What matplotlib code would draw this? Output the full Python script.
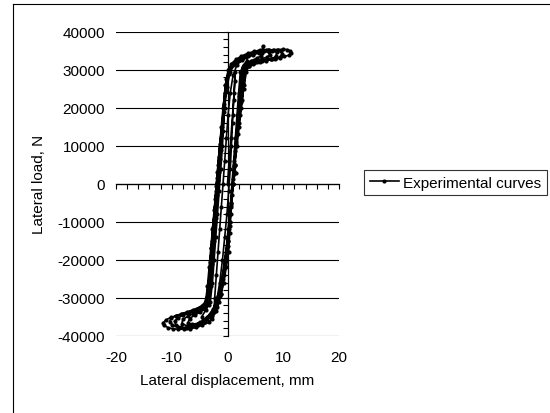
import matplotlib
matplotlib.use("Agg")
import matplotlib.pyplot as plt
from matplotlib.lines import Line2D
from matplotlib.ticker import MultipleLocator

plt.rcParams.update({"font.family": ["Liberation Sans", "DejaVu Sans"], "font.size": 11,
                     "axes.unicode_minus": False})

# cyclic test record, one list pair per loading cycle (mm, N)
cyc1_disp = [0.0, 0.3, 0.6, 0.9, 1.2, 1.4, 1.3, 1.1, 0.9, 0.7, 0.5, 0.2, -0.1, -0.5, -0.9, -1.4, -1.9, -2.4, -2.3, -2.0,
             -1.7, -1.4, -1.1, -0.8, -0.5]
cyc1_load = [0, 6000, 12000, 18000, 24000, 29500, 27000, 22000, 16000, 10000, 4000, -2000, -8000, -14000, -20000,
             -26000, -30500, -33000, -30000, -24000, -18000, -12000, -6000, 0, 6000]

cyc2_disp = [-0.2, 0.1, 0.5, 1.0, 1.7, 2.6, 3.6, 3.5, 2.9, 2.3, 2.0, 1.7, 1.4, 1.1, 0.8, 0.5, 0.1, -0.3, -0.8, -1.4,
             -2.2, -3.3, -4.4, -4.6, -3.9, -3.1, -2.7, -2.4, -2.1, -1.8, -1.5, -1.2, -0.9]
cyc2_load = [12000, 18000, 24000, 28500, 31300, 32600, 33500, 32400, 31200, 29500, 24000, 18000, 12000, 6000, 0,
             -6000, -12000, -18000, -24000, -29000, -32500, -34800, -35900, -35000, -33200, -31200, -26000, -20000,
             -14000, -8000, -2000, 4000, 10000]

cyc3_disp = [-0.6, -0.3, 0.2, 0.9, 1.8, 2.8, 3.8, 4.8, 5.6, 6.1, 6.0, 5.2, 4.3, 3.4, 2.7, 2.4, 2.1, 1.8, 1.5, 1.2,
             0.9, 0.6, 0.3, -0.1, -0.6, -1.2, -1.9, -2.8, -4.0, -5.2, -6.3, -7.1, -6.8, -5.9, -4.9, -4.0, -3.3, -3.0,
             -2.7, -2.4, -2.1, -1.8, -1.5, -1.2]
cyc3_load = [19000, 24500, 28800, 31200, 32300, 33200, 33900, 34400, 34700, 34400, 33600, 33000, 32400, 31700, 30800,
             28000, 23000, 17000, 11000, 5000, 0, -6000, -12000, -18000, -24000, -29000, -32500, -34800, -36000,
             -36700, -37000, -36600, -35500, -34600, -33800, -33000, -31800, -27000, -21000, -15000, -9000, -3000,
             3000, 9000]

cyc4_disp = [-0.8, -0.5, -0.1, 0.5, 1.3, 2.3, 3.4, 4.5, 5.6, 6.6, 7.4, 7.6, 7.1, 6.2, 5.2, 4.2, 3.3, 2.8, 2.5, 2.2,
             1.9, 1.6, 1.3, 1.0, 0.7, 0.4, 0.0, -0.5, -1.0, -1.7, -2.6, -3.7, -4.9, -6.1, -7.3, -8.2, -8.0, -7.1,
             -6.1, -5.1, -4.2, -3.6, -3.2, -2.9, -2.6, -2.3, -2.0, -1.7, -1.3]
cyc4_load = [14000, 20000, 25500, 29500, 31400, 32500, 33400, 34000, 34500, 34800, 34700, 34000, 33300, 32900, 32500,
             32000, 31200, 29500, 25000, 20000, 15000, 10000, 5000, 0, -5000, -10000, -15000, -20000, -25000, -29500,
             -33000, -35200, -36500, -37200, -37400, -36800, -35700, -34900, -34200, -33500, -32700, -31300, -26500,
             -21000, -15500, -10000, -4500, 1000, 6500]

cyc5_disp = [-0.9, -0.6, -0.3, 0.3, 1.0, 2.0, 3.1, 4.2, 5.3, 6.2, 6.3, 6.4, 7.4, 8.3, 8.8, 8.7, 7.9, 6.9, 5.9, 4.9,
             3.9, 3.0, 2.7, 2.4, 2.0, 1.6, 1.3, 1.0, 0.7, 0.4, 0.0, -0.5, -1.1, -1.7, -2.5, -3.6, -4.8, -6.0, -7.2,
             -8.4, -9.3, -9.5, -8.9, -7.9, -6.9, -5.9, -4.9, -4.0, -3.5, -3.2, -2.9, -2.6, -2.3, -2.0, -1.7, -1.4]
cyc5_load = [14000, 20000, 25500, 29500, 31500, 32600, 33500, 34200, 34700, 35000, 36200, 35100, 35300, 35100, 34600,
             33500, 32900, 32600, 32300, 31900, 31300, 30300, 26500, 21500, 16000, 10500, 5000, 0, -5500, -11000,
             -16500, -22000, -27000, -30800, -33700, -35600, -36800, -37500, -37900, -37800, -37200, -36200, -35300,
             -34600, -34000, -33400, -32800, -32000, -28000, -22500, -17000, -11500, -6000, -500, 5000, 10500]

cyc6_disp = [-1.0, -0.7, -0.4, 0.1, 0.7, 1.5, 2.5, 3.6, 4.7, 5.8, 6.9, 7.9, 8.9, 9.6, 9.8, 9.5, 8.7, 7.8, 6.8, 5.8,
             4.8, 3.9, 3.2, 2.9, 2.5, 2.1, 1.7, 1.3, 1.0, 0.7, 0.4, 0.1, -0.3, -0.8, -1.4, -2.1, -3.0, -4.1, -5.3,
             -6.5, -7.7, -8.9, -9.9, -10.4, -10.1, -9.2, -8.2, -7.2, -6.2, -5.2, -4.4, -3.8, -3.4, -3.1, -2.8, -2.5,
             -2.2, -1.9, -1.6]
cyc6_load = [15000, 21000, 26000, 29800, 31600, 32700, 33600, 34300, 34800, 35100, 35200, 35000, 35100, 34900, 34200,
             33400, 33000, 32700, 32500, 32100, 31700, 31000, 29800, 25000, 20000, 15000, 10000, 5000, 0, -5000,
             -10000, -15000, -20000, -25000, -29500, -32800, -35000, -36400, -37300, -37800, -38000, -37800, -37200,
             -36300, -35300, -34700, -34200, -33700, -33200, -32600, -31900, -30500, -26000, -20500, -15000, -9500,
             -4000, 1500, 7000]

cyc7_disp = [-1.1, -0.8, -0.5, -0.2, 0.3, 0.9, 1.6, 2.5, 3.5, 4.5, 5.5, 6.4, 7.3, 8.2, 9.1, 10.0, 10.7, 11.2, 11.3,
             11.0, 10.2, 9.4, 8.6, 7.8, 6.9, 6.1, 5.3, 4.5, 3.8, 3.4, 3.0, 2.6, 2.2, 1.8, 1.4, 1.1, 1.6, 1.0, 0.8, 0.6,
             0.4, 0.2, -0.2, -0.7, -1.1, -1.5, -2.0, -2.8, -3.4, -4.5, -5.7, -6.7, -7.8, -8.8, -9.7, -10.6, -11.4,
             -11.6, -11.0, -10.2, -9.2, -8.3, -7.3, -6.3, -5.4, -4.6, -4.0, -3.6, -3.3, -3.0, -2.7, -2.4, -2.1, -1.8]
cyc7_load = [15000, 20000, 24000, 27500, 30200, 31600, 32400, 33200, 33900, 34400, 34800, 35200, 35300, 35200, 35300,
             35400, 35300, 35000, 34300, 33800, 33500, 33100, 32800, 32700, 32400, 32200, 31900, 31500, 30900, 29500,
             26000, 22000, 18000, 13000, 8500, 4500, 2800, 1200, -3000, -8000, -13000, -18000, -22000, -26000, -29000,
             -31000, -33500, -35500, -36500, -37200, -37800, -38200, -38300, -38300, -38200, -37900, -37300, -36700,
             -35800, -35200, -34800, -34400, -33900, -33400, -32900, -32300, -31700, -27000, -22000, -17000, -12000,
             -7000, -2000, 3000]

disp = cyc1_disp + cyc2_disp + cyc3_disp + cyc4_disp + cyc5_disp + cyc6_disp + cyc7_disp
load = cyc1_load + cyc2_load + cyc3_load + cyc4_load + cyc5_load + cyc6_load + cyc7_load

x_ticks = [-20, -10, 0, 10, 20]
y_ticks = [-40000, -30000, -20000, -10000, 0, 10000, 20000, 30000, 40000]

fig = plt.figure(figsize=(5.5, 4.14), dpi=100)
ax = fig.add_axes([0.2109, 0.1867, 0.4055, 0.7343])

ax.plot(disp, load, color="black", lw=1.2, marker="o", ms=2.0, label="Experimental curves")

ax.set_xlim(-20, 20)
ax.set_ylim(-40000, 40000)

# axes cross at the origin, Excel-style
for side in ("top", "right"):
    ax.spines[side].set_visible(False)
ax.spines["left"].set_position(("data", 0))
ax.spines["bottom"].set_position(("data", 0))
for side in ("left", "bottom"):
    ax.spines[side].set_linewidth(0.9)
ax.set_xticks(x_ticks)
ax.set_yticks(y_ticks)
ax.xaxis.set_minor_locator(MultipleLocator(2))
ax.yaxis.set_minor_locator(MultipleLocator(2000))
ax.tick_params(which="both", direction="out", length=3.5, width=0.8,
               labelbottom=False, labelleft=False)
ax.yaxis.grid(True, color="black", lw=0.8)
ax.set_axisbelow(True)

# tick labels sit at the low edges of the plot area
sx = ax.secondary_xaxis("bottom")
sx.set_xticks(x_ticks)
sx.spines["bottom"].set_visible(False)
sx.tick_params(length=0, pad=10)
sy = ax.secondary_yaxis("left")
sy.set_yticks(y_ticks)
sy.set_yticklabels([f"{v:d}" for v in y_ticks])
sy.spines["left"].set_visible(False)
sy.tick_params(length=0, pad=8)

fig.text(0.071, 0.5538, "Lateral load, N", rotation=90, ha="center", va="center")
fig.text(0.4136, 0.080, "Lateral displacement, mm", ha="center", va="center")

leg = fig.legend(loc="center", bbox_to_anchor=(0.828, 0.556), frameon=True, fancybox=False,
                 numpoints=1, handlelength=1.9, handletextpad=0.3, borderpad=0.35, borderaxespad=0)
leg.get_frame().set_edgecolor("black")
leg.get_frame().set_linewidth(0.8)

# chart area border
fig.add_artist(Line2D([12.5 / 550, 12.5 / 550], [0, 1 - 4.5 / 414], color="black", lw=0.8))
fig.add_artist(Line2D([12.5 / 550, 1], [1 - 4.5 / 414, 1 - 4.5 / 414], color="black", lw=0.8))

fig.savefig("out.png", dpi=100)
